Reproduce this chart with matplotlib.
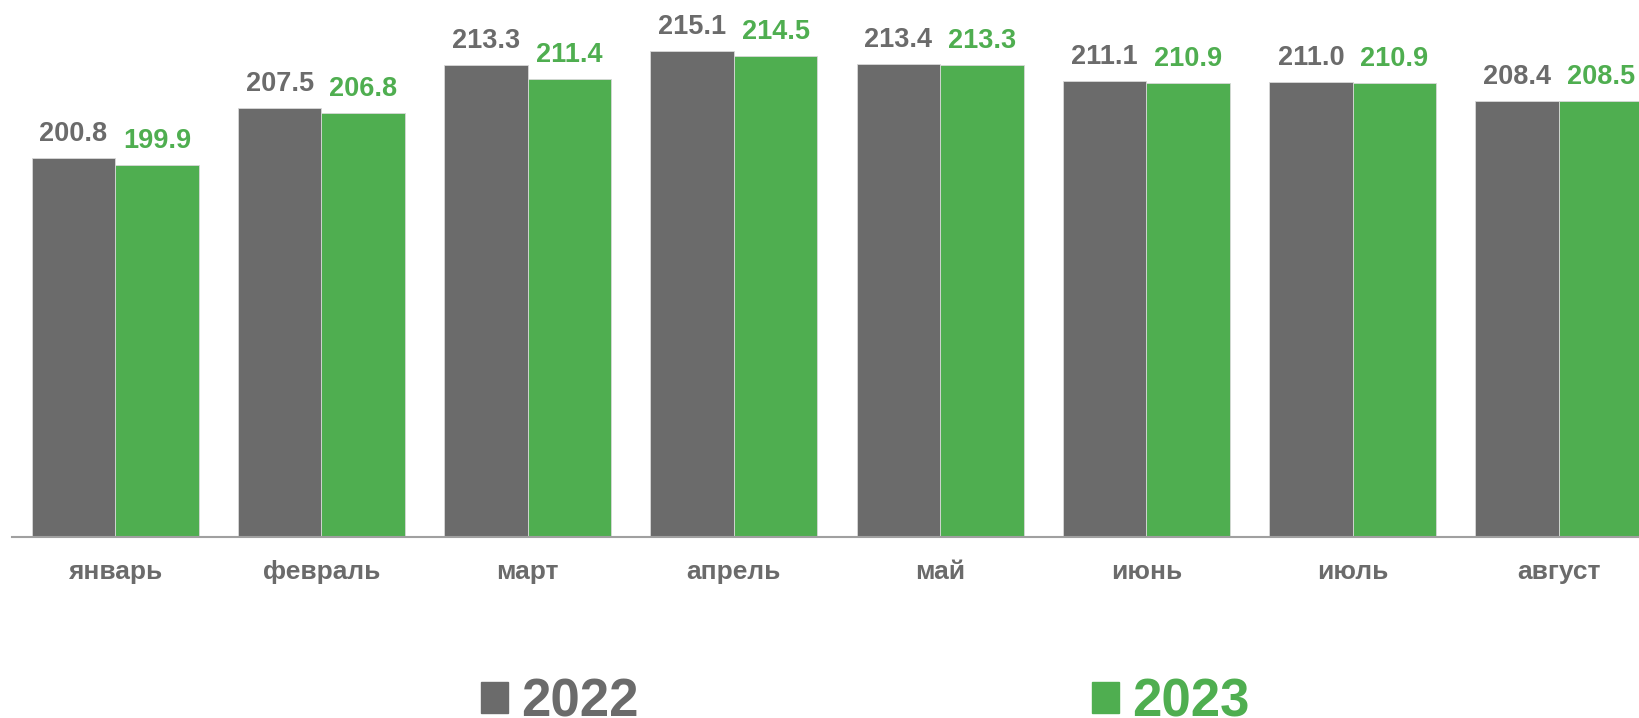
import matplotlib
matplotlib.use("Agg")
import matplotlib.pyplot as plt
import numpy as np
from matplotlib.patches import Patch

plt.rcParams["font.family"] = ["Liberation Sans", "DejaVu Sans"]

# данные
months = ["январь", "февраль", "март", "апрель", "май", "июнь", "июль", "август"]
vals_2022 = [200.8, 207.5, 213.3, 215.1, 213.4, 211.1, 211.0, 208.4]
vals_2023 = [199.9, 206.8, 211.4, 214.5, 213.3, 210.9, 210.9, 208.5]
years = ["2022", "2023"]

GRAY = "#6b6b6b"
GREEN = "#4fae50"

fig = plt.figure(figsize=(16.4, 7.18), dpi=100)
ax = fig.add_axes([12 / 1640, 1 - 536.7 / 718, 1 - 12 / 1640, 536.7 / 718])

x = np.arange(len(months))
w = 0.405
b1 = ax.bar(x - w / 2, vals_2022, width=w, color=GRAY, edgecolor="#d8d8d8", linewidth=0.6)
b2 = ax.bar(x + w / 2, vals_2023, width=w, color=GREEN, edgecolor="#d8d8d8", linewidth=0.6)

ax.bar_label(b1, labels=[f"{v:.1f}" for v in vals_2022], padding=8,
             fontsize=19.5, fontweight="bold", color=GRAY)
ax.bar_label(b2, labels=[f"{v:.1f}" for v in vals_2023], padding=8,
             fontsize=19.5, fontweight="bold", color=GREEN)

ax.set_ylim(150, 222)
ax.set_xlim(-0.5, 7.393)
ax.set_xticks(x)
ax.set_xticklabels(months, fontsize=19, fontweight="bold", color=GRAY)
ax.tick_params(axis="x", length=0, pad=17)
ax.set_yticks([])
for s in ["top", "right", "left"]:
    ax.spines[s].set_visible(False)
ax.spines["bottom"].set_color("#a0a0a0")
ax.spines["bottom"].set_linewidth(1.5)

# легенда внизу
handles = [Patch(color=GRAY), Patch(color=GREEN)]
leg = fig.legend(handles, years, loc="center", bbox_to_anchor=(0.5277, 0.022),
                 ncol=2, frameon=False, handlelength=0.5, handleheight=0.5,
                 handletextpad=0.25, columnspacing=8.6,
                 prop={"size": 38, "weight": "bold"})
for t, c in zip(leg.get_texts(), [GRAY, GREEN]):
    t.set_color(c)

fig.savefig("out.png", dpi=100)
